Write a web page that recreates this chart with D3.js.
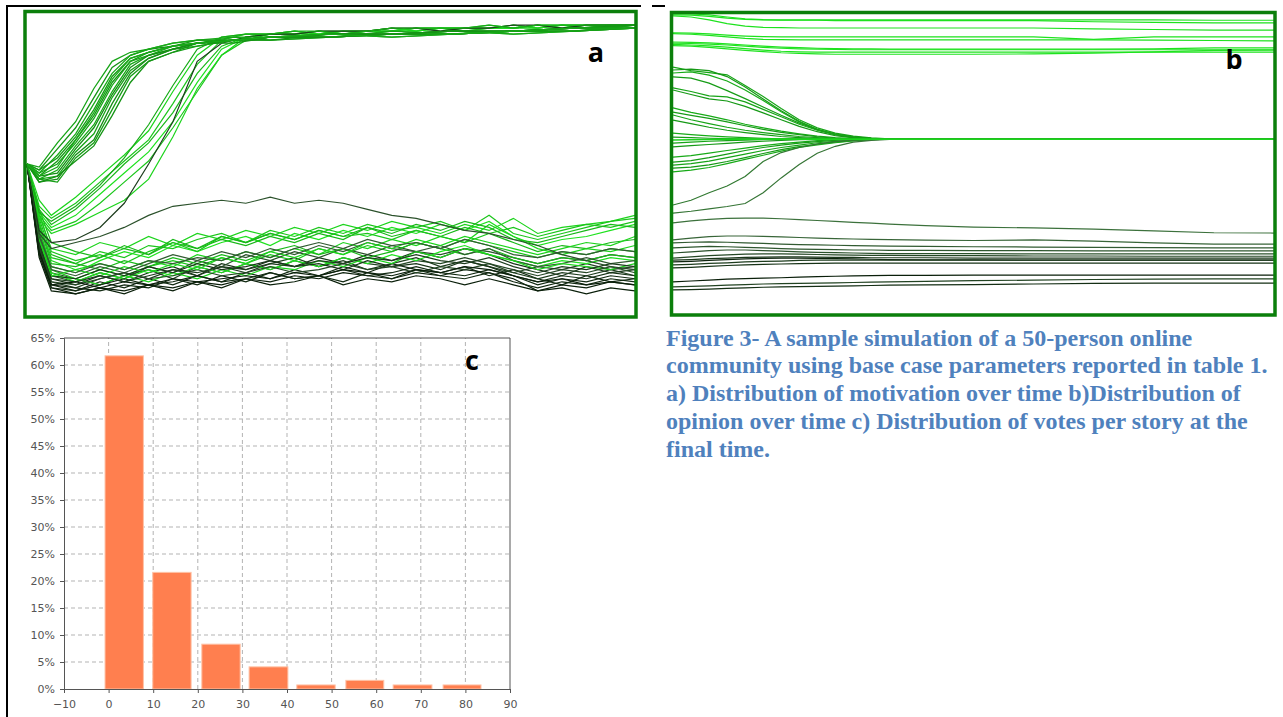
<!DOCTYPE html>
<html>
<head>
<meta charset="utf-8">
<script src="https://cdn.jsdelivr.net/npm/d3@7"></script>
<style>
body { margin: 0; background: #fff; }
svg { display: block; }
</style>
</head>
<body>
<svg id="fig" width="1283" height="717"></svg>
<script>
// panel a: motivation (0-100) of each member over time (0-100)
var tFast = [0,2,5,8,11,14,17,20,24,28,34,40,50,60,70,80,90,100];
var fastA = [
	[50,49,57,64,75,84,87,88,90,91,91,92,92,93,93,94,94,96],
	[50,48,55,62,72,82,86,88,89,90,91,92,93,93,94,94,95,95],
	[50,47,53,60,70,80,86,88,90,91,92,91,92,93,94,93,94,95],
	[50,48,52,59,68,79,85,87,89,90,91,92,93,92,93,94,95,96],
	[50,46,51,58,66,77,84,87,89,91,91,92,92,93,93,94,94,95],
	[50,47,50,57,65,76,84,86,88,90,92,92,93,93,94,94,95,96],
	[50,45,48,56,63,74,83,86,89,90,91,92,92,93,94,93,94,95],
	[50,46,47,55,62,73,82,86,88,90,91,91,93,93,93,94,95,95],
	[50,45,46,54,60,72,81,85,88,89,91,92,92,94,93,94,94,96],
	[50,44,45,53,58,70,80,85,88,90,91,92,93,93,94,94,95,95],
	[50,45,44,52,57,68,79,84,87,89,91,91,92,93,93,94,94,95],
	[50,44,46,51,56,66,77,84,87,90,90,92,92,93,94,94,95,96],
	[50,46,49,58,67,78,85,87,89,90,91,92,93,92,93,94,95,95]
];
var fastShade = [0.78,0.72,0.8,0.75,0.74,0.78,0.8,0.7,0.78,0.68,0.76,0.72,0.8];

var tLow = [0,2,4,8,12,16,20,24,28,32,36,40,44,48,52,56,60,64,68,72,76,80,84,88,92,96,100];
var slowA = [
	[50,38,33,39,46,53,61,74,86,92,93,93,93,94,93,94,94,94,95,94,95,95,95,96,95,96,96],
	[50,36,32,37,44,51,58,70,83,91,93,93,94,93,94,94,94,95,94,95,95,95,96,95,96,96,96],
	[50,35,30,35,42,50,57,67,80,89,92,93,93,94,94,93,94,95,95,94,95,96,95,96,96,95,96],
	[50,34,29,33,40,47,54,64,77,88,92,93,93,93,94,94,95,94,95,95,95,95,96,96,95,96,96],
	[50,33,28,31,37,44,51,62,74,86,91,93,93,94,93,94,94,95,95,95,96,95,96,95,96,96,96],
	[50,32,27,30,34,38,45,59,75,86,92,93,94,93,94,94,95,94,95,95,95,96,95,96,96,96,96],
	[50,28,24,25,29,37,50,64,84,90,92,93,93,94,94,94,95,95,94,95,95,96,96,95,96,96,96],
	[50,34,31,36,43,52,63,76,88,92,93,93,94,94,93,94,95,95,95,95,96,95,96,96,96,96,96]
];
var slowShade = [0.95,0.9,0.85,1,0.9,0.95,0.15,0.8];

var lowA = [
	[50,33,22,20,24,22,26,23,27,25,28,26,29,27,30,28,31,29,27,30,28,32,27,29,30,31,33],
	[50,24,12,10,13,11,14,16,13,17,15,18,16,19,17,20,18,21,19,22,20,17,15,13,16,14,15],
	[50,30,19,17,21,19,23,22,25,27,24,28,26,29,27,30,28,29,31,28,33,27,25,27,29,31,32],
	[50,22,10,8,11,9,12,10,13,11,14,12,15,13,16,14,17,15,14,16,13,15,12,10,13,11,12],
	[50,28,16,14,18,21,19,23,21,24,26,23,27,25,28,26,29,27,30,28,31,26,23,25,26,28,30],
	[50,26,14,12,10,13,15,12,16,14,17,15,18,16,19,17,16,18,17,19,17,14,16,15,17,15,16],
	[50,35,24,21,19,22,20,24,22,25,23,26,24,27,25,29,26,28,26,29,27,24,21,23,22,24,25],
	[50,20,9,7,9,8,10,9,11,10,12,11,13,12,14,13,12,14,13,15,14,12,8,10,9,11,10],
	[50,31,18,15,17,15,18,16,20,18,21,19,22,20,24,22,25,23,26,24,30,26,22,20,22,21,23],
	[50,23,11,9,12,14,12,15,13,16,14,17,19,16,18,15,17,19,16,18,16,14,12,14,13,15,13],
	[50,29,15,12,15,13,16,18,16,19,17,20,18,22,20,23,21,24,22,25,23,21,19,21,20,22,21],
	[50,25,13,11,14,12,16,14,18,16,20,18,21,19,22,20,23,21,20,22,21,19,17,19,18,20,19],
	[50,32,20,17,15,18,16,19,17,20,18,21,23,20,22,19,21,24,22,20,22,19,17,19,18,20,19],
	[50,21,10,9,8,10,9,12,10,13,11,14,12,13,11,14,12,15,13,12,14,11,9,11,10,12,11],
	[50,27,14,11,14,12,15,13,16,14,17,15,18,16,19,17,20,18,21,23,20,18,16,18,17,19,18],
	[50,27,15,13,16,14,17,20,18,21,19,22,20,23,21,24,22,21,23,20,22,18,16,17,19,17,18],
	[50,34,21,18,20,17,21,24,21,26,24,27,25,28,26,27,25,28,26,24,27,29,26,28,30,29,31],
	[50,19,8,7,9,7,10,8,11,9,12,10,11,13,10,12,11,13,12,10,12,10,8,9,7,9,8],
	[50,26,13,12,10,13,11,14,12,15,13,16,15,18,16,19,17,21,19,22,20,18,15,17,16,15,17],
	[50,24,13,12,15,13,16,14,17,15,16,18,16,17,15,18,16,17,15,18,16,13,11,13,12,14,13],
	[50,30,17,16,19,23,20,25,22,26,24,27,25,28,26,29,27,30,28,31,29,25,24,26,28,30,29],
	[50,22,11,10,12,14,12,13,15,13,14,16,14,15,17,15,16,14,16,15,17,15,13,15,14,16,15],
	[50,25,13,15,13,16,14,17,15,19,17,21,19,22,20,24,22,25,23,26,24,22,20,22,24,23,26],
	[50,26,16,14,17,15,18,17,19,18,21,19,22,24,22,25,23,24,22,25,23,20,19,21,20,22,21],
	[50,20,9,8,10,12,10,11,13,11,12,14,12,13,15,13,14,16,14,13,15,13,10,12,11,13,12],
	[50,23,12,11,13,11,13,15,14,16,15,17,16,18,17,19,18,20,18,17,19,16,14,16,15,17,16],
	[50,21,10,11,9,11,10,12,11,12,13,12,14,13,15,14,13,15,14,16,15,13,11,12,10,11,10],
	[50,27,22,24,26,29,33,36,37,38,37,39,37,38,37,35,33,32,30,28,27,25,23,20,18,16,14]
];
var lowShade = [0.95,0.1,0.9,0.05,1,0.2,0.85,0,0.95,0.15,0.9,0.25,0.85,0.05,1,0.3,0.9,0,0.95,0.1,0.85,0.2,0.95,0.3,0.05,0.15,0,0.25];

// panel b: opinion (0-100) of each member over time (0-100)
var tB = [0,3,6,9,12,15,18,21,24,27,30,33,36,42,50,60,70,80,90,100];
var topB = [
	[100,100,99.7,99,98.4,98.1,98,98,98,98,98,98,98,98,98,98,98,98,97.9,97.9],
	[99.7,99.6,99.2,98.6,98.2,98,97.9,97.9,97.9,97.8,97.8,97.8,97.8,97.8,97.8,97.8,97.4,97.2,97,97],
	[99.4,99,98,96.8,95.9,95.5,95.4,95.3,95.3,95.3,95.3,95.3,95.3,95.3,95.3,95.3,95,94.8,94.6,94.6],
	[93.7,93.6,93.3,92.9,92.6,92.4,92.3,92.3,92.3,92.3,92.3,92.3,92.3,92.3,92.3,92.3,91.5,92.3,92.3,92.3],
	[93.4,93.2,92.8,92.3,91.8,91.5,91.4,91.3,91.3,91.3,91.3,91.3,91.3,91.3,91.3,91.3,91.3,91.2,91.1,91],
	[90.2,90.1,89.9,89.6,89.2,88.8,88.5,88.3,88.2,88.1,88,88,88,88,88,88,88,88,88,88],
	[89.8,89.6,89.3,88.9,88.4,87.9,87.5,87.3,87.2,87.2,87.2,87.2,87.2,87.2,87.2,87.2,87.2,87.2,87.2,87.2],
	[90.6,90.5,90.3,90,89.6,89.2,88.9,88.7,88.5,88.4,88.3,88.3,88.2,88.2,88.2,88.2,88.2,88.3,88.6,88.6],
	[89.4,89.2,88.8,88.3,87.8,87.4,87,86.8,86.6,86.5,86.5,86.5,86.5,86.5,86.5,86.6,86.9,87.3,87.8,87.9]
];
var midB = [
	[82.2,81,80.3,79.6,76,72.3,68.3,64.5,61.8,60,59,58.4,58.1,58,58,58,58,58,58,58],
	[81.2,81.5,81,79,75.5,71.5,67.5,64,61.3,59.7,58.8,58.3,58,58,58,58,58,58,58,58],
	[80.2,80.6,79.5,77.5,74.5,71,67.2,63.8,61.2,59.6,58.7,58.2,58,58,58,58,58,58,58,58],
	[78.9,78.5,76.8,74.3,71.6,68.8,66,63.4,61.2,59.6,58.7,58.2,58,58,58,58,58,58,58,58],
	[75.2,74,72.5,72.2,70.5,68,65.5,63,61,59.5,58.6,58.2,58,58,58,58,58,58,58,58],
	[74.5,73,71.5,70.8,69,66.8,64.5,62.3,60.5,59.2,58.4,58.1,58,58,58,58,58,58,58,58],
	[68.5,67,65.8,64.5,63,61.8,60.7,59.8,59,58.5,58.2,58,58,58,58,58,58,58,58,58],
	[67.1,66,65,63.8,62.5,61.3,60.3,59.5,58.8,58.3,58.1,58,58,58,58,58,58,58,58,58],
	[66.1,64.5,63.2,62,61,60.2,59.5,58.9,58.5,58.2,58,58,58,58,58,58,58,58,58,58],
	[64.4,63.2,62,61,60.2,59.5,58.9,58.5,58.2,58,58,58,58,58,58,58,58,58,58,58],
	[60,59.5,59.1,58.8,58.5,58.3,58.1,58,58,58,58,58,58,58,58,58,58,58,58,58],
	[58.7,58.5,58.3,58.2,58.1,58,58,58,58,58,58,58,58,58,58,58,58,58,58,58],
	[56.7,57,57.3,57.5,57.7,57.8,57.9,58,58,58,58,58,58,58,58,58,58,58,58,58],
	[55.4,55.8,56.2,56.6,57,57.3,57.6,57.8,57.9,58,58,58,58,58,58,58,58,58,58,58],
	[52,52.5,53.3,54.2,55,55.8,56.5,57,57.5,57.8,57.9,58,58,58,58,58,58,58,58,58],
	[50.3,50.8,51.8,53,54.2,55.2,56,56.7,57.2,57.6,57.9,58,58,58,58,58,58,58,58,58],
	[49.3,49.8,50.6,51.8,53,54.2,55.2,56,56.8,57.3,57.7,57.9,58,58,58,58,58,58,58,58],
	[48.3,48.6,49.4,50.5,51.8,53.2,54.5,55.5,56.3,57,57.5,57.8,58,58,58,58,58,58,58,58],
	[47,47.6,48.5,49.8,51.2,52.6,54,55.2,56.1,56.8,57.4,57.8,58,58,58,58,58,58,58,58],
	[35.9,37.5,40,42.3,45.5,50.5,53.5,55.2,56.4,57.2,57.7,57.9,58,58,58,58,58,58,58,58],
	[33.2,33.8,34.6,35.4,36.4,40,45,49.5,53.3,55.6,57,57.6,57.9,58,58,58,58,58,58,58],
	[57.7,57.8,57.9,58,58,58,58,58,58,58,58,58,58,58,58,58,58,58,58,58]
];
var midShade = [0.78,0.74,0.8,0.75,0.78,0.74,0.8,0.75,0.78,0.74,0.8,0.75,0.78,0.74,0.8,0.75,0.78,0.74,0.8,0.5,0.46,0.95];
var lowB = [
	[29.9,30.6,31.1,31.4,31.5,31.5,31.3,31,30.7,30.4,30.1,29.8,29.5,29,28.5,28.2,27.8,27.2,26.6,26.5],
	[24.2,24.8,25.3,25.5,25.5,25.4,25.2,25,24.8,24.6,24.5,24.4,24.3,24.1,24,24.2,23.8,23.2,22.8,22.8],
	[23.2,23.4,23.5,23.4,23.2,23,22.8,22.6,22.5,22.4,22.3,22.2,22.1,22,21.9,21.8,21.7,21.6,21.5,21.5],
	[21.5,21.8,22,21.9,21.7,21.5,21.3,21.1,21,20.9,20.8,20.8,20.7,20.7,20.6,20.6,20.5,20.5,20.5,20.5],
	[19.8,20.2,20.6,20.8,20.8,20.6,20.4,20.2,20,19.9,19.8,19.7,19.6,19.6,19.6,19.5,19.5,19.5,19.5,19.5],
	[18.1,18.5,18.9,19.2,19.4,19.5,19.5,19.4,19.3,19.2,19.1,19,19,18.9,18.9,18.8,18.8,18.7,18.7,18.7],
	[17.4,17.6,17.9,18.1,18.3,18.4,18.5,18.5,18.4,18.3,18.3,18.2,18.2,18.2,18.1,18.1,18.1,18.1,18.1,18.1],
	[16.8,17,17.3,17.6,17.8,18,18.1,18.1,18,17.9,17.8,17.7,17.6,17.5,17.5,17.4,17.4,17.4,17.4,17.4],
	[15.8,16,16.3,16.5,16.8,17,17.1,17.3,17.4,17.4,17.4,17.4,17.4,17.4,17.4,17.4,17.4,17.4,17.4,17.4],
	[14.8,15,15.3,15.6,15.8,16,16.1,16.2,16.3,16.4,16.4,16.4,16.4,16.4,16.4,16.4,16.4,16.4,16.4,16.4],
	[10.1,10.4,10.7,11,11.2,11.4,11.5,11.7,11.9,12,12.1,12.2,12.3,12.3,12.4,12.4,12.4,12.4,12.4,12.4],
	[8.4,8.6,8.8,9,9.2,9.4,9.5,9.6,9.7,9.8,9.9,10,10.1,10.3,10.5,10.7,10.9,11,11.1,11.1],
	[7.4,7.5,7.7,7.9,8.1,8.3,8.4,8.5,8.6,8.7,8.8,8.9,9,9.1,9.2,9.4,9.6,9.7,9.7,9.7]
];
var lowBShade = [0.42,0.35,0.3,0.28,0.25,0.2,0.12,0.02,0.15,0.1,0,0.18,0.08];

// panel c: votes per story histogram
var binLo = [-0.8, 9.9, 20.9, 31.5, 42.2, 53.2, 63.8, 75];
var binHi = [7.8, 18.5, 29.5, 40.2, 50.8, 61.7, 72.5, 83.5];
var share = [61.7, 21.6, 8.3, 4.1, 0.75, 1.6, 0.75, 0.75];
var xTicksC = [-10,0,10,20,30,40,50,60,70,80,90];
var yTicksC = [0,5,10,15,20,25,30,35,40,45,50,55,60,65];

var caption = [
	"Figure 3- A sample simulation of a 50-person online",
	"community using base case parameters reported in table 1.",
	"a) Distribution of motivation over time b)Distribution of",
	"opinion over time c) Distribution of votes per story at the",
	"final time."
];

var svg = d3.select("#fig");
var frameGreen = "#0b7f0b";
var shadeColor = d3.scaleLinear()
	.domain([0, 0.4, 0.7, 1])
	.range(["#0a1f0a", "#3f6f3f", "#148e14", "#1ee21e"]);

function drawRuns(g, times, runs, shades, x, y, width) {
	var line = d3.line()
		.x(function(d, i) { return x(times[i]); })
		.y(function(d) { return y(d); });
	g.selectAll(null)
		.data(runs)
		.join("path")
		.attr("d", line)
		.attr("fill", "none")
		.attr("stroke", function(d, i) { return shadeColor(shades[i]); })
		.attr("stroke-width", width || 1.2);
}

// page borders
svg.append("line").attr("x1", 7).attr("y1", 6).attr("x2", 641).attr("y2", 6)
	.attr("stroke", "#000").attr("stroke-width", 2);
svg.append("line").attr("x1", 652).attr("y1", 6).attr("x2", 665).attr("y2", 6)
	.attr("stroke", "#000").attr("stroke-width", 2);
svg.append("line").attr("x1", 7).attr("y1", 5).attr("x2", 7).attr("y2", 717)
	.attr("stroke", "#000").attr("stroke-width", 2);

// panel a
var xa = d3.scaleLinear().domain([0, 100]).range([27, 635]);
var ya = d3.scaleLinear().domain([0, 100]).range([315, 13]);
var ga = svg.append("g");
drawRuns(ga, tLow, lowA, lowShade, xa, ya);
drawRuns(ga, tLow, slowA, slowShade, xa, ya);
drawRuns(ga, tFast, fastA, fastShade, xa, ya, 1.3);
svg.append("rect").attr("x", 25).attr("y", 11.5).attr("width", 611).attr("height", 305.5)
	.attr("fill", "none").attr("stroke", frameGreen).attr("stroke-width", 3.5);
svg.append("text").attr("x", 596).attr("y", 62).attr("text-anchor", "middle")
	.attr("font-family", "Open Sans").attr("font-weight", "bold").attr("font-size", 27)
	.text("a");

// panel b
var xb = d3.scaleLinear().domain([0, 100]).range([673, 1274]);
var yb = d3.scaleLinear().domain([0, 100]).range([312, 14]);
var gb = svg.append("g");
drawRuns(gb, tB, lowB, lowBShade, xb, yb);
drawRuns(gb, tB, topB, topB.map(function() { return 1; }), xb, yb);
drawRuns(gb, tB, midB.slice(0, -1), midShade.slice(0, -1), xb, yb);
drawRuns(gb, tB, midB.slice(-1), midShade.slice(-1), xb, yb, 1.6);
svg.append("rect").attr("x", 671.5).attr("y", 12.5).attr("width", 603.5).attr("height", 302.5)
	.attr("fill", "none").attr("stroke", frameGreen).attr("stroke-width", 3.5);
svg.append("text").attr("x", 1234).attr("y", 69).attr("text-anchor", "middle")
	.attr("font-family", "Open Sans").attr("font-weight", "bold").attr("font-size", 27)
	.text("b");

// panel c
var xc = d3.scaleLinear().domain([-10, 90]).range([64, 510]);
var yc = d3.scaleLinear().domain([0, 65]).range([689, 338]);
var gc = svg.append("g");
gc.selectAll(null).data(xTicksC.slice(1, -1)).join("line")
	.attr("x1", function(d) { return xc(d); }).attr("x2", function(d) { return xc(d); })
	.attr("y1", yc(0)).attr("y2", yc(65))
	.attr("stroke", "#b3b3b3").attr("stroke-dasharray", "4,3");
gc.selectAll(null).data(yTicksC.slice(1, -1)).join("line")
	.attr("x1", xc(-10)).attr("x2", xc(90))
	.attr("y1", function(d) { return yc(d); }).attr("y2", function(d) { return yc(d); })
	.attr("stroke", "#b3b3b3").attr("stroke-dasharray", "4,3");
gc.selectAll(null).data(share).join("rect")
	.attr("x", function(d, i) { return xc(binLo[i]); })
	.attr("width", function(d, i) { return xc(binHi[i]) - xc(binLo[i]); })
	.attr("y", function(d) { return yc(d); })
	.attr("height", function(d) { return yc(0) - yc(d); })
	.attr("fill", "#ff7f4f").attr("stroke", "#ffc2a6").attr("stroke-width", 1);
gc.append("line").attr("x1", xc(-10)).attr("x2", xc(90)).attr("y1", yc(65)).attr("y2", yc(65))
	.attr("stroke", "#555");
gc.append("line").attr("x1", xc(90)).attr("x2", xc(90)).attr("y1", yc(0)).attr("y2", yc(65))
	.attr("stroke", "#555");
var axisL = gc.append("g").attr("transform", "translate(" + xc(-10) + ",0)")
	.call(d3.axisLeft(yc).tickValues(yTicksC).tickFormat(function(d) { return d + "%"; })
		.tickSize(4).tickPadding(5));
var axisB = gc.append("g").attr("transform", "translate(0," + yc(0) + ")")
	.call(d3.axisBottom(xc).tickValues(xTicksC).tickSize(4).tickPadding(7));
[axisL, axisB].forEach(function(ax) {
	ax.select(".domain").attr("stroke", "#555");
	ax.selectAll(".tick line").attr("stroke", "#555");
	ax.selectAll(".tick text").attr("fill", "#555")
		.attr("font-family", "DejaVu Sans").attr("font-size", 11);
});
svg.append("text").attr("x", 472).attr("y", 370).attr("text-anchor", "middle")
	.attr("font-family", "Open Sans").attr("font-weight", "bold").attr("font-size", 27)
	.text("c");

// caption
svg.append("g").selectAll(null).data(caption).join("text")
	.attr("x", 666)
	.attr("y", function(d, i) { return 345.5 + i * 27.8; })
	.attr("font-family", "Liberation Serif").attr("font-weight", "bold").attr("font-size", 24)
	.attr("fill", "#4f81bd")
	.text(function(d) { return d; });
</script>
</body>
</html>
